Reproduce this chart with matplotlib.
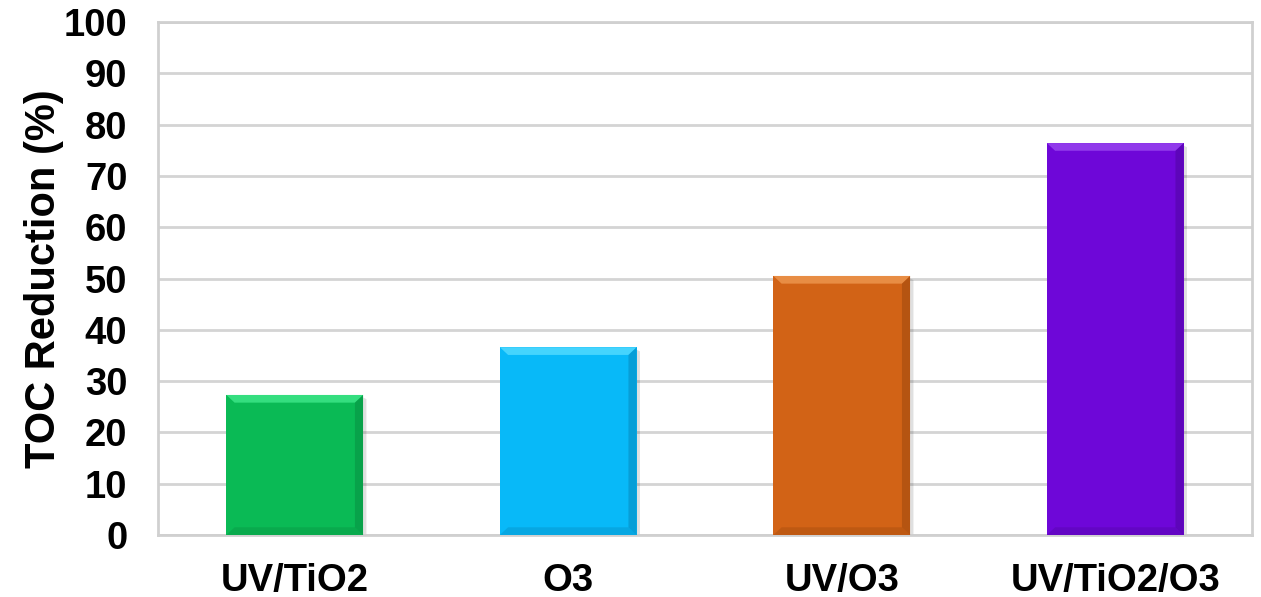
import numpy as np
import matplotlib
matplotlib.use("Agg")
import matplotlib.pyplot as plt
from matplotlib.patches import Polygon

categories = ["UV/TiO2", "O3", "UV/O3", "UV/TiO2/O3"]
toc_reduction = [27.3, 36.6, 50.5, 76.4]
colors = ["#0ABA55", "#08B9F8", "#D26316", "#6E07D8"]
light = ["#3FE88A", "#55DBFF", "#EE9850", "#9A48F0"]
dark = ["#07863D", "#067FB0", "#93430C", "#4A0496"]

plt.rcParams['font.family'] = ['Liberation Sans', 'DejaVu Sans']
plt.rcParams['font.weight'] = 'bold'

fig = plt.figure(figsize=(12.61, 5.97), dpi=100)
ax = fig.add_axes([0.1253, 0.1039, 0.8676, 0.8592])

x = np.arange(len(categories))
w = 0.5
bars = ax.bar(x, toc_reduction, width=w, color=colors, zorder=3,
              edgecolor="none")

# bevel look: light top, dark bottom/right edges
bx, by = 0.03, 1.5
for b, c, lc, dc in zip(bars, colors, light, dark):
    x0 = b.get_x()
    x1 = x0 + b.get_width()
    h = b.get_height()
    top = Polygon([[x0, h], [x1, h], [x1 - bx, h - by], [x0 + bx, h - by]],
                  closed=True, color=lc, alpha=0.8, zorder=4, lw=0)
    right = Polygon([[x1, h], [x1, 0], [x1 - bx, by], [x1 - bx, h - by]],
                    closed=True, color=dc, alpha=0.45, zorder=4, lw=0)
    bottom = Polygon([[x0, 0], [x1, 0], [x1 - bx, by], [x0 + bx, by]],
                     closed=True, color=dc, alpha=0.3, zorder=4, lw=0)
    ax.add_patch(top)
    ax.add_patch(right)
    ax.add_patch(bottom)
    # soft shadow
    ax.add_patch(Polygon([[x1, h - 0.5], [x1 + 0.012, h - 0.8], [x1 + 0.012, 0], [x1, 0]],
                         closed=True, color="#000000", alpha=0.12, zorder=2, lw=0))

ax.set_xlim(-0.5, 3.5)
ax.set_ylim(0, 100)
ax.set_yticks(np.arange(0, 101, 10))
ax.set_xticks(x)
ax.set_xticklabels(categories)
ax.tick_params(axis="both", length=0, labelsize=27.5)
ax.tick_params(axis="y", pad=22)
ax.tick_params(axis="x", pad=20)
ax.yaxis.grid(True, color="#d4d4d4", linewidth=2, zorder=0)
ax.set_axisbelow(True)
for s in ax.spines.values():
    s.set_color("#d0d0d0")
    s.set_linewidth(2)

ax.set_ylabel("TOC Reduction (%)", fontsize=30, fontweight="bold", labelpad=0)

fig.savefig("out.png", dpi=100)
